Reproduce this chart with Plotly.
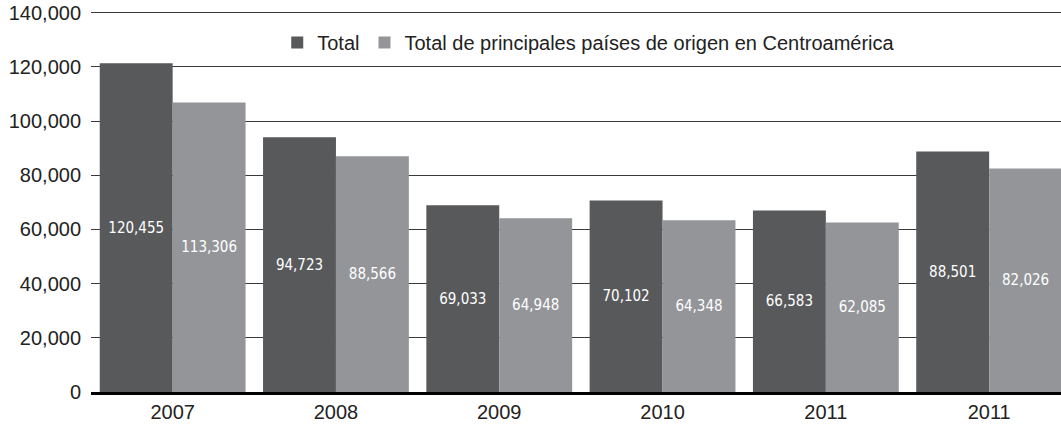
import plotly.graph_objects as go

# data
years = ["2007", "2008", "2009", "2010", "2011", "2011"]
total_heights = [121300, 94000, 68900, 70700, 67000, 88800]
centro_heights = [106900, 87000, 64100, 63400, 62600, 82500]
total_labels = ["120,455", "94,723", "69,033", "70,102", "66,583", "88,501"]
centro_labels = ["113,306", "88,566", "64,948", "64,348", "62,085", "82,026"]
y_ticks = [0, 20000, 40000, 60000, 80000, 100000, 120000, 140000]

positions = list(range(len(years)))
label_font = dict(family="Liberation Sans Narrow, DejaVu Sans Condensed, sans-serif",
                  size=15, color="white")

fig = go.Figure()
fig.add_trace(go.Bar(
    x=positions, y=total_heights, name="Total",
    marker=dict(color="#58595b", line=dict(width=0)),
    text=total_labels, textposition="inside", insidetextanchor="middle",
    textangle=0, constraintext="none", textfont=label_font,
))
fig.add_trace(go.Bar(
    x=positions, y=centro_heights,
    name="Total de principales países de origen en Centroamérica",
    marker=dict(color="#939598", line=dict(width=0)),
    text=centro_labels, textposition="inside", insidetextanchor="middle",
    textangle=0, constraintext="none", textfont=label_font,
))

fig.update_layout(
    width=1061, height=431,
    margin=dict(l=91, r=0, t=10, b=39),
    barmode="group", bargap=0.107, bargroupgap=0,
    plot_bgcolor="white", paper_bgcolor="white",
    font=dict(family="Liberation Sans, Arial, sans-serif", size=20, color="#222222"),
    showlegend=True,
    legend=dict(orientation="h", x=0.192, xanchor="left", y=0.915, yanchor="middle",
                font=dict(size=20, color="#222222"), itemwidth=30,
                bgcolor="rgba(0,0,0,0)", traceorder="normal"),
    xaxis=dict(
        tickmode="array", tickvals=positions, ticktext=years,
        range=[-0.5, 5.44], showgrid=False, zeroline=False,
        showline=True, linecolor="black", linewidth=3,
        ticks="", tickfont=dict(size=20), automargin=False,
    ),
    yaxis=dict(
        range=[0, 141000], tickmode="array", tickvals=y_ticks,
        tickformat=",d", showgrid=True, gridcolor="#3a3a3a", gridwidth=1,
        zeroline=False, showline=False, ticks="", ticklabelstandoff=9,
        tickfont=dict(size=20), automargin=False, ticklabeloverflow="allow",
    ),
)

# drop the default 8px body margin so the figure sits at the page corner
fig.write_html("out.html", config={"displayModeBar": False},
               post_script="document.body.style.margin='0';")
